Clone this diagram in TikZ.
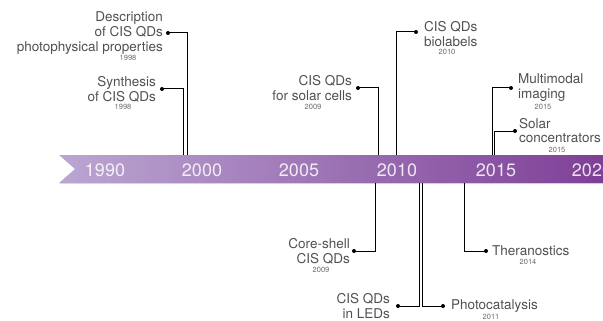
\documentclass[tikz,border=0pt]{standalone}
\usepackage{fontspec}
\setmainfont{TeX Gyre Heros}
\definecolor{bandleft}{HTML}{BBA6D2}
\definecolor{bandright}{HTML}{7D3E96}
\definecolor{labelgray}{HTML}{505050}
\definecolor{yeargray}{HTML}{6A6A6A}
\tikzset{
  event/.style={font=\fontsize{13.5}{15}\selectfont, text=labelgray, inner sep=0pt},
  yr/.style={font=\fontsize{7.5}{8}\selectfont, text=yeargray, inner sep=0pt},
  tick/.style={font=\fontsize{18}{20}\selectfont, text=white, text opacity=0.85, inner sep=0pt},
  link/.style={line width=1pt},
  dot/.style={circle, fill, inner sep=0pt, minimum size=4pt}
}
\begin{document}
\begin{tikzpicture}[x=1pt,y=-1pt]
    \pgfmathsetmacro{\bt}{155}
    \pgfmathsetmacro{\bb}{183}
    \pgfmathsetmacro{\bm}{169}
    \clip (0,0) rectangle (603,321);
    % band
    \fill[black!12] (60,\bb)--(610,\bb)--(610,\bb+1.2)--(60,\bb+1.2)--cycle;
    \shade[left color=bandleft, right color=bandright] (59,\bt)--(610,\bt)--(610,\bb)--(59,\bb)--(75,\bm)--cycle;
    \foreach \yr/\xx in {1990/105, 2000/202, 2005/299, 2010/397, 2015/496, 2020/592}
      \node[tick] (t\yr) at (\xx,\bm+1) {\yr};
    % above the band
    \node[event, anchor=east, align=right] (descr) at (163,33) {Description\\of CIS QDs\\photophysical properties};
    \node[yr] (descrY) at (128,58) {1998};
    \node[dot] (dDescr) at (168,33) {};
    \coordinate (bDescr) at (187,\bt);
    \draw[link] (dDescr.center) -| (bDescr);
    \node[event, anchor=east, align=right] (synth) at (156,89) {Synthesis\\of CIS QDs};
    \node[yr] (synthY) at (123,107) {1998};
    \node[dot] (dSynth) at (162,89) {};
    \coordinate (bSynth) at (183,\bt);
    \draw[link] (dSynth.center) -| (bSynth);
    \node[event, anchor=east, align=right] (solar) at (352,88) {CIS QDs\\for solar cells};
    \node[yr] (solarY) at (313,107) {2009};
    \node[dot] (dSolar) at (358,88) {};
    \coordinate (bSolar) at (378,\bt);
    \draw[link] (dSolar.center) -| (bSolar);
    \node[event, anchor=west, align=left] (bio) at (424,34) {CIS QDs\\biolabels};
    \node[yr] (bioY) at (447,52) {2010};
    \node[dot] (dBio) at (416,32) {};
    \coordinate (bBio) at (396,\bt);
    \draw[link] (dBio.center) -| (bBio);
    \node[event, anchor=west, align=left] (multi) at (518,88) {Multimodal\\imaging};
    \node[yr] (multiY) at (543,107) {2015};
    \node[dot] (dMulti) at (511,88) {};
    \coordinate (bMulti) at (492,\bt);
    \draw[link] (dMulti.center) -| (bMulti);
    \node[event, anchor=west, align=left, font=\fontsize{13.5}{14}\selectfont] (conc) at (519,131) {Solar\\concentrators};
    \node[yr] (concY) at (557,149.5) {2015};
    \node[dot] (dConc) at (515,131) {};
    \coordinate (bConc) at (494.5,\bt);
    \draw[link] (dConc.center) -| (bConc);
    % below the band
    \node[event, anchor=east, align=right] (core) at (350,251) {Core-shell\\CIS QDs};
    \node[yr] (coreY) at (321,270) {2009};
    \node[dot] (dCore) at (354,251) {};
    \coordinate (bCore) at (375,\bb);
    \draw[link] (dCore.center) -| (bCore);
    \node[event, anchor=east, align=right] (led) at (390,306) {CIS QDs\\in LEDs};
    \node[dot] (dLed) at (398,306) {};
    \coordinate (bLed) at (419,\bb);
    \draw[link] (dLed.center) -| (bLed);
    \node[event, anchor=west] (photo) at (451,306) {Photocatalysis};
    \node[yr] (photoY) at (491,317) {2011};
    \node[dot] (dPhoto) at (443,306) {};
    \coordinate (bPhoto) at (422,\bb);
    \draw[link] (dPhoto.center) -| (bPhoto);
    \node[event, anchor=west] (thera) at (492,251) {Theranostics};
    \node[yr] (theraY) at (528,262) {2014};
    \node[dot] (dThera) at (486,251) {};
    \coordinate (bThera) at (464,\bb);
    \draw[link] (dThera.center) -| (bThera);
\end{tikzpicture}
\end{document}
